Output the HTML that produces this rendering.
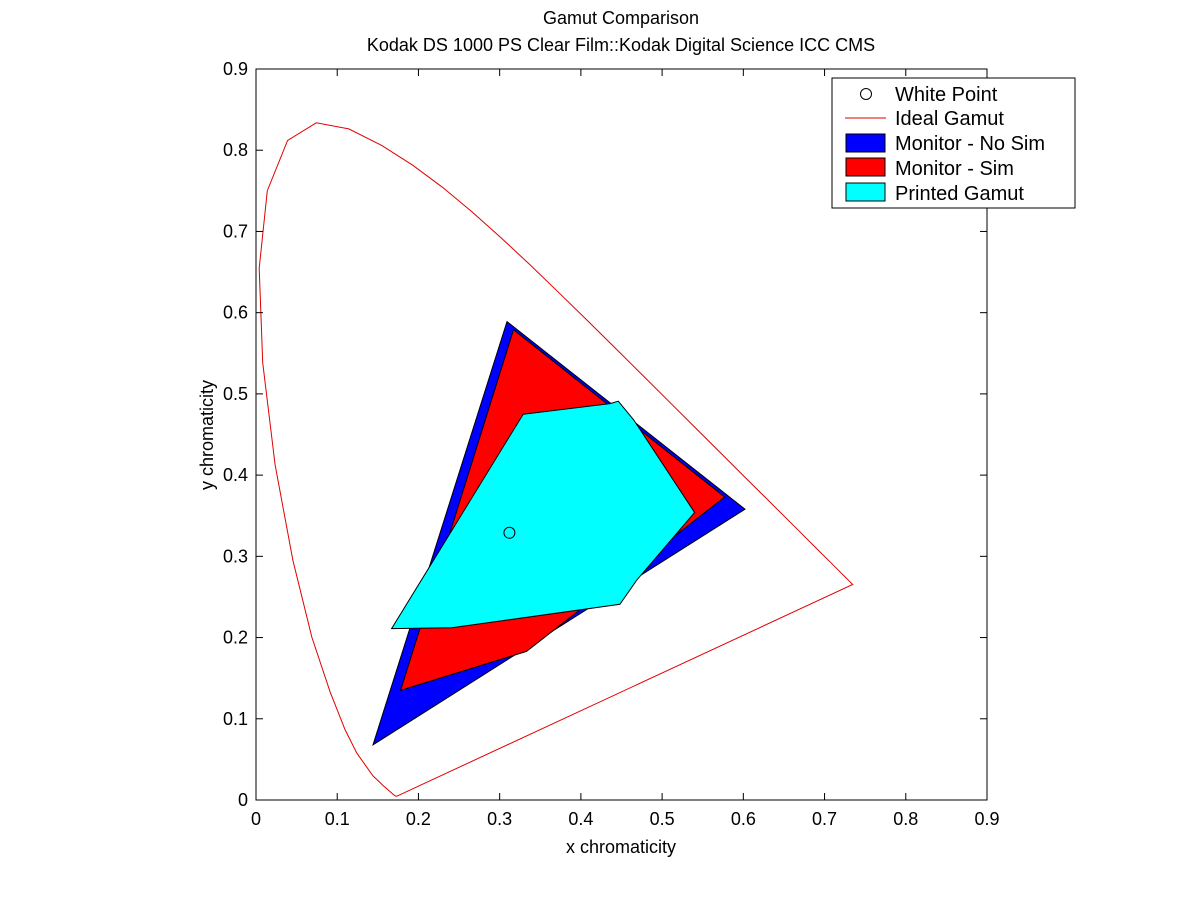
<!DOCTYPE html>
<html><head><meta charset="utf-8"><style>
body{margin:0;background:#fff;}
svg{display:block;font-family:"Liberation Sans",Arial,sans-serif;}
</style></head><body>
<svg id="chart" width="1200" height="900" viewBox="0 0 1200 900" xmlns="http://www.w3.org/2000/svg">
<rect width="1200" height="900" fill="#fff"/>
<text x="621" y="24" font-size="18" text-anchor="middle">Gamut Comparison</text>
<text x="621" y="51" font-size="18" text-anchor="middle">Kodak DS 1000 PS Clear Film::Kodak Digital Science ICC CMS</text>
<g id="plot"></g>
<g id="axes"></g>
<text x="621" y="853" font-size="18" text-anchor="middle">x chromaticity</text>
<text x="213" y="435" font-size="18" text-anchor="middle" transform="rotate(-90 213 435)">y chromaticity</text>
<g>
<rect x="832" y="78" width="243" height="130" fill="#fff" stroke="#000" stroke-width="1"/>
<circle cx="866" cy="94" r="5.5" fill="none" stroke="#000"/>
<text x="895" y="101" font-size="20">White Point</text>
<line x1="845" y1="118" x2="886" y2="118" stroke="#e00000" stroke-width="1"/>
<text x="895" y="125" font-size="20">Ideal Gamut</text>
<rect x="846" y="134" width="39" height="18" fill="#0000ff" stroke="#000"/>
<text x="895" y="150" font-size="20">Monitor - No Sim</text>
<rect x="846" y="158" width="39" height="18" fill="#ff0000" stroke="#000"/>
<text x="895" y="175" font-size="20">Monitor - Sim</text>
<rect x="846" y="183" width="39" height="18" fill="#00ffff" stroke="#000"/>
<text x="895" y="200" font-size="20">Printed Gamut</text>
</g>
</svg>
<script>
const locusX=[0.1741,0.1733,0.1726,0.1714,0.1689,0.1644,0.1566,0.1440,0.1241,0.1096,0.0913,0.0687,0.0454,0.0235,0.0082,0.0039,0.0139,0.0389,0.0743,0.1142,0.1547,0.1929,0.2296,0.2658,0.3016,0.3373,0.3731,0.4087,0.4441,0.4788,0.5125,0.5448,0.5752,0.6029,0.6270,0.6658,0.6915,0.7079,0.7190,0.7260,0.7300,0.7347];
const locusY=[0.0050,0.0048,0.0048,0.0051,0.0069,0.0109,0.0177,0.0297,0.0578,0.0868,0.1327,0.2007,0.2950,0.4127,0.5384,0.6548,0.7502,0.8120,0.8338,0.8262,0.8059,0.7816,0.7543,0.7243,0.6923,0.6589,0.6245,0.5896,0.5547,0.5202,0.4866,0.4544,0.4242,0.3965,0.3725,0.3340,0.3083,0.2920,0.2809,0.2740,0.2700,0.2653];
const noSimX=[0.309,0.602,0.144];
const noSimY=[0.589,0.358,0.068];
const simX=[0.317,0.577,0.333,0.178];
const simY=[0.579,0.373,0.183,0.135];
const printX=[0.167,0.241,0.448,0.469,0.540,0.465,0.446,0.436,0.329];
const printY=[0.211,0.212,0.241,0.271,0.354,0.468,0.491,0.488,0.475];
const whiteX=[0.312];
const whiteY=[0.329];
const xTicks=[0,0.1,0.2,0.3,0.4,0.5,0.6,0.7,0.8,0.9];
const yTicks=[0,0.1,0.2,0.3,0.4,0.5,0.6,0.7,0.8,0.9];
const xTickLabels=["0","0.1","0.2","0.3","0.4","0.5","0.6","0.7","0.8","0.9"];
const yTickLabels=["0","0.1","0.2","0.3","0.4","0.5","0.6","0.7","0.8","0.9"];

const L=256,R=987,T=69,B=800,NS="http://www.w3.org/2000/svg";
function sx(v){return L+v/0.9*(R-L);}
function sy(v){return B-v/0.9*(B-T);}
function pts(xs,ys){return xs.map((x,i)=>sx(x).toFixed(1)+","+sy(ys[i]).toFixed(1)).join(" ");}
function mk(tag,attrs,parent){const e=document.createElementNS(NS,tag);for(const k in attrs)e.setAttribute(k,attrs[k]);parent.appendChild(e);return e;}
const plot=document.getElementById('plot'),axes=document.getElementById('axes');

let e=mk('polygon',{points:pts(locusX,locusY),fill:'none',stroke:'#e00000','stroke-width':1},plot);


e=mk('polygon',{points:pts(noSimX,noSimY),fill:'#0000ff',stroke:'#000','stroke-width':1},plot);


e=mk('polygon',{points:pts(simX,simY),fill:'#ff0000',stroke:'#000','stroke-width':1},plot);


e=mk('polygon',{points:pts(printX,printY),fill:'#00ffff',stroke:'#000','stroke-width':1},plot);


e=mk('circle',{cx:sx(whiteX[0]),cy:sy(whiteY[0]),r:5.5,fill:'none',stroke:'#000','stroke-width':1},plot);



mk('rect',{x:L,y:T,width:R-L,height:B-T,fill:'none',stroke:'#000','stroke-width':1},axes);
xTicks.forEach((v,i)=>{
  const x=sx(v);
  mk('line',{x1:x,y1:B,x2:x,y2:B-7,stroke:'#000'},axes);
  mk('line',{x1:x,y1:T,x2:x,y2:T+7,stroke:'#000'},axes);
  const t=mk('text',{x:x,y:B+25,'font-size':18,'text-anchor':'middle'},axes);
  t.textContent=xTickLabels[i];
  
  
});
yTicks.forEach((v,i)=>{
  const y=sy(v);
  mk('line',{x1:L,y1:y,x2:L+7,y2:y,stroke:'#000'},axes);
  mk('line',{x1:R,y1:y,x2:R-7,y2:y,stroke:'#000'},axes);
  const t=mk('text',{x:L-8,y:y+6,'font-size':18,'text-anchor':'end'},axes);
  t.textContent=yTickLabels[i];
  
  
});
</script>
</body></html>
